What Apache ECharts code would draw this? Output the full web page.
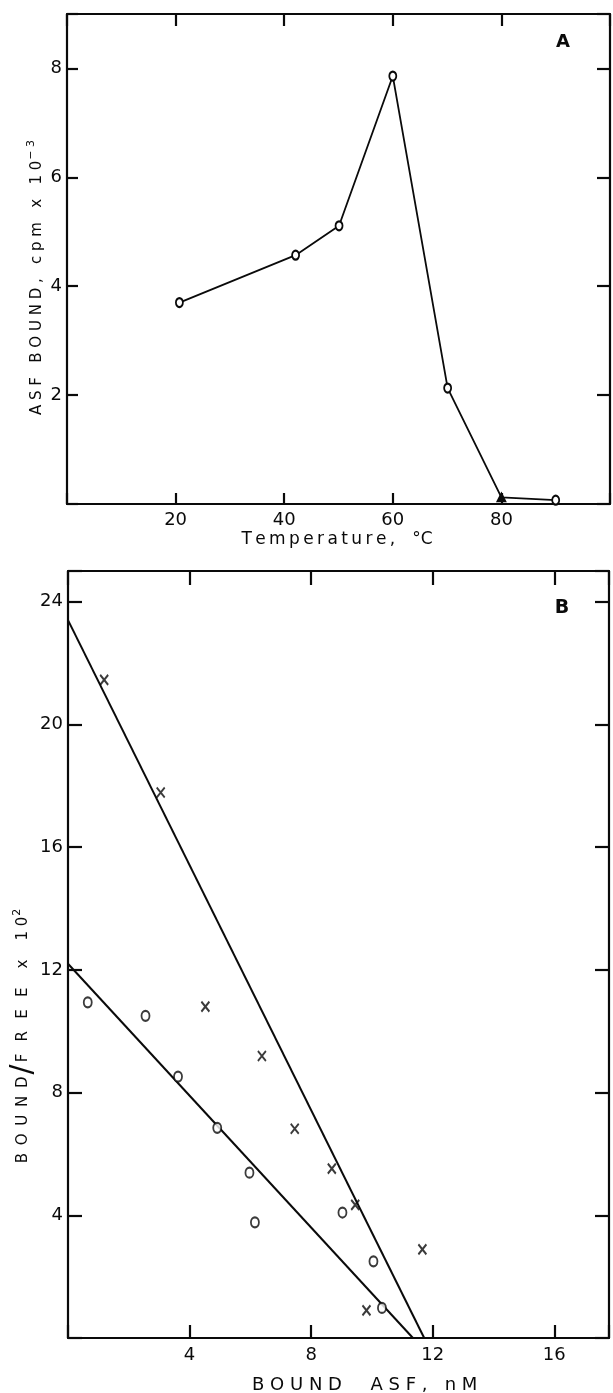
<!DOCTYPE html>
<html>
<head>
<meta charset="utf-8">
<script src="https://cdn.jsdelivr.net/npm/echarts@6/dist/echarts.min.js"></script>
<style>
html,body{margin:0;padding:0;background:#fff;}
#chart{width:613px;height:1393px;}
</style>
</head>
<body>
<div id="chart"></div>
<script>
// ---- Panel A data ----
const tempC = [20.7, 42.1, 50.1, 60.0, 70.1, 80, 90];
const asfBound = [3.70, 4.57, 5.11, 7.86, 2.13, 0.12, 0.07];
const tempTicks = [20, 40, 60, 80];
const asfTicks = [2, 4, 6, 8];

// ---- Panel B data ----
const crossX = [1.19, 3.05, 4.52, 6.38, 7.46, 8.68, 9.45, 11.66, 9.82];
const crossY = [21.45, 17.78, 10.8, 9.19, 6.82, 5.52, 4.34, 2.89, 0.90];
const circleX = [0.65, 2.55, 3.62, 4.91, 5.97, 6.15, 9.03, 10.05, 10.33];
const circleY = [10.94, 10.5, 8.52, 6.85, 5.39, 3.77, 4.09, 2.50, 0.98];
const steepLineX = [0, 11.72];
const steepLineY = [23.4, 0];
const shallowLineX = [0, 11.35];
const shallowLineY = [12.2, 0];
const boundTicks = [4, 8, 12, 16];
const ratioTicks = [4, 8, 12, 16, 20, 24];

const INK = '#0a0a0a';
const FONT = 'DejaVu Sans';
const zip = (a, b) => a.map((v, i) => [v, b[i]]);
const onlyTicks = list => v => (list.indexOf(Math.round(v * 1000) / 1000) >= 0 ? String(v) : '');

function axis(opts) {
  const base = {
    type: 'value',
    splitLine: { show: false },
    axisLine: { show: true, onZero: false, lineStyle: { color: INK, width: 2.2 } },
    axisTick: { show: true, inside: true, length: opts.tickLen, lineStyle: { color: INK, width: 2.2 } },
    axisLabel: opts.labels
      ? { show: true, formatter: onlyTicks(opts.labels), fontSize: 18, fontFamily: FONT, color: INK, margin: opts.margin, showMinLabel: true, showMaxLabel: true }
      : { show: false }
  };
  return Object.assign(base, opts.extra);
}

const chart = echarts.init(document.getElementById('chart'), null, { renderer: 'canvas' });

const option = {
  backgroundColor: '#fff',
  animation: false,
  grid: [
    { left: 67, top: 14, width: 543, height: 490 },
    { left: 68, top: 571, width: 541, height: 767 }
  ],
  xAxis: [
    axis({ tickLen: 11, labels: tempTicks, margin: 7, extra: { gridIndex: 0, position: 'bottom', min: 0, max: 100, interval: 20 } }),
    axis({ tickLen: 12, extra: { gridIndex: 0, position: 'top', min: 0, max: 100, interval: 20 } }),
    axis({ tickLen: 13, labels: boundTicks, margin: 8, extra: { gridIndex: 1, position: 'bottom', min: 0, max: 17.8, interval: 4 } }),
    axis({ tickLen: 14, extra: { gridIndex: 1, position: 'top', min: 0, max: 17.8, interval: 4 } })
  ],
  yAxis: [
    axis({ tickLen: 11, labels: asfTicks, margin: 5, extra: { gridIndex: 0, position: 'left', min: 0, max: 9, interval: 2 } }),
    axis({ tickLen: 13, extra: { gridIndex: 0, position: 'right', min: 0, max: 9, interval: 2 } }),
    axis({ tickLen: 14, labels: ratioTicks, margin: 5, extra: { gridIndex: 1, position: 'left', min: 0, max: 25, interval: 4 } }),
    axis({ tickLen: 14, extra: { gridIndex: 1, position: 'right', min: 0, max: 25, interval: 4 } })
  ],
  series: [
    {
      type: 'line', xAxisIndex: 0, yAxisIndex: 0,
      data: zip(tempC, asfBound).map(p => p[0] === 80
        ? { value: p, symbol: 'triangle', symbolSize: 8, itemStyle: { color: INK, borderColor: INK } }
        : { value: p }),
      symbol: 'emptyCircle', symbolSize: [7, 9],
      lineStyle: { color: INK, width: 1.8 },
      itemStyle: { color: INK, borderColor: INK, borderWidth: 1.8 },
      z: 3
    },
    {
      type: 'line', xAxisIndex: 2, yAxisIndex: 2,
      data: zip(steepLineX, steepLineY), symbol: 'none',
      lineStyle: { color: INK, width: 2 }
    },
    {
      type: 'line', xAxisIndex: 2, yAxisIndex: 2,
      data: zip(shallowLineX, shallowLineY), symbol: 'none',
      lineStyle: { color: INK, width: 2 }
    },
    {
      type: 'scatter', xAxisIndex: 2, yAxisIndex: 2,
      data: zip(crossX, crossY),
      symbol: 'path://M0,0L8,10M8,0L0,10', symbolSize: [8, 10],
      itemStyle: { color: 'rgba(0,0,0,0)', borderColor: INK, borderWidth: 2 },
      z: 4
    },
    {
      type: 'scatter', xAxisIndex: 2, yAxisIndex: 2,
      data: zip(circleX, circleY),
      symbol: 'emptyCircle', symbolSize: [8, 10],
      itemStyle: { color: INK, borderColor: INK, borderWidth: 1.9 },
      z: 4
    }
  ],
  graphic: [
    {
      type: 'text', x: 36.7, y: 277.5, rotation: Math.PI / 2,
      style: {
        text: '{n|A S F   B O U N D ,   c p m   x   1 0}{s|\u2212 3}',
        align: 'center', verticalAlign: 'middle', fill: INK,
        rich: {
          n: { fontSize: 15, fontFamily: FONT, fill: INK, lineHeight: 22 },
          s: { fontSize: 11, fontFamily: FONT, fill: INK, padding: [0, 0, 11, 1] }
        }
      }
    },
    {
      type: 'text', x: 337, y: 540,
      style: {
        text: 'T\u2009e\u2009m\u2009p\u2009e\u2009r\u2009a\u2009t\u2009u\u2009r\u2009e\u2009,\u2003\u00b0C',
        align: 'center', verticalAlign: 'middle', fill: INK,
        fontSize: 17, fontFamily: FONT
      }
    },
    {
      type: 'text', x: 23, y: 1036, rotation: Math.PI / 2,
      style: {
        text: '{n|B\u2009 O\u2009 U\u2009 N\u2009 D}{sl|/}{n|F\u2002 R\u2002 E\u2002 E    x    1 0}{s|2}',
        align: 'center', verticalAlign: 'middle', fill: INK,
        rich: {
          n: { fontSize: 15, fontFamily: FONT, fill: INK, lineHeight: 24 },
          sl: { fontSize: 30, fontFamily: FONT, fill: INK, lineHeight: 24, padding: [0, 2, 0, 2] },
          s: { fontSize: 11, fontFamily: FONT, fill: INK, padding: [0, 0, 12, 1] }
        }
      }
    },
    {
      type: 'text', x: 364.7, y: 1385,
      style: {
        text: 'B O U N D     A S F ,   n M',
        align: 'center', verticalAlign: 'middle', fill: INK,
        fontSize: 18, fontFamily: FONT
      }
    },
    {
      type: 'text', x: 563, y: 42,
      style: { text: 'A', align: 'center', verticalAlign: 'middle', fill: INK, fontSize: 18, fontWeight: 'bold', fontFamily: FONT }
    },
    {
      type: 'text', x: 562, y: 608,
      style: { text: 'B', align: 'center', verticalAlign: 'middle', fill: INK, fontSize: 19, fontWeight: 'bold', fontFamily: FONT }
    }
  ]
};

chart.setOption(option);
</script>
</body>
</html>
